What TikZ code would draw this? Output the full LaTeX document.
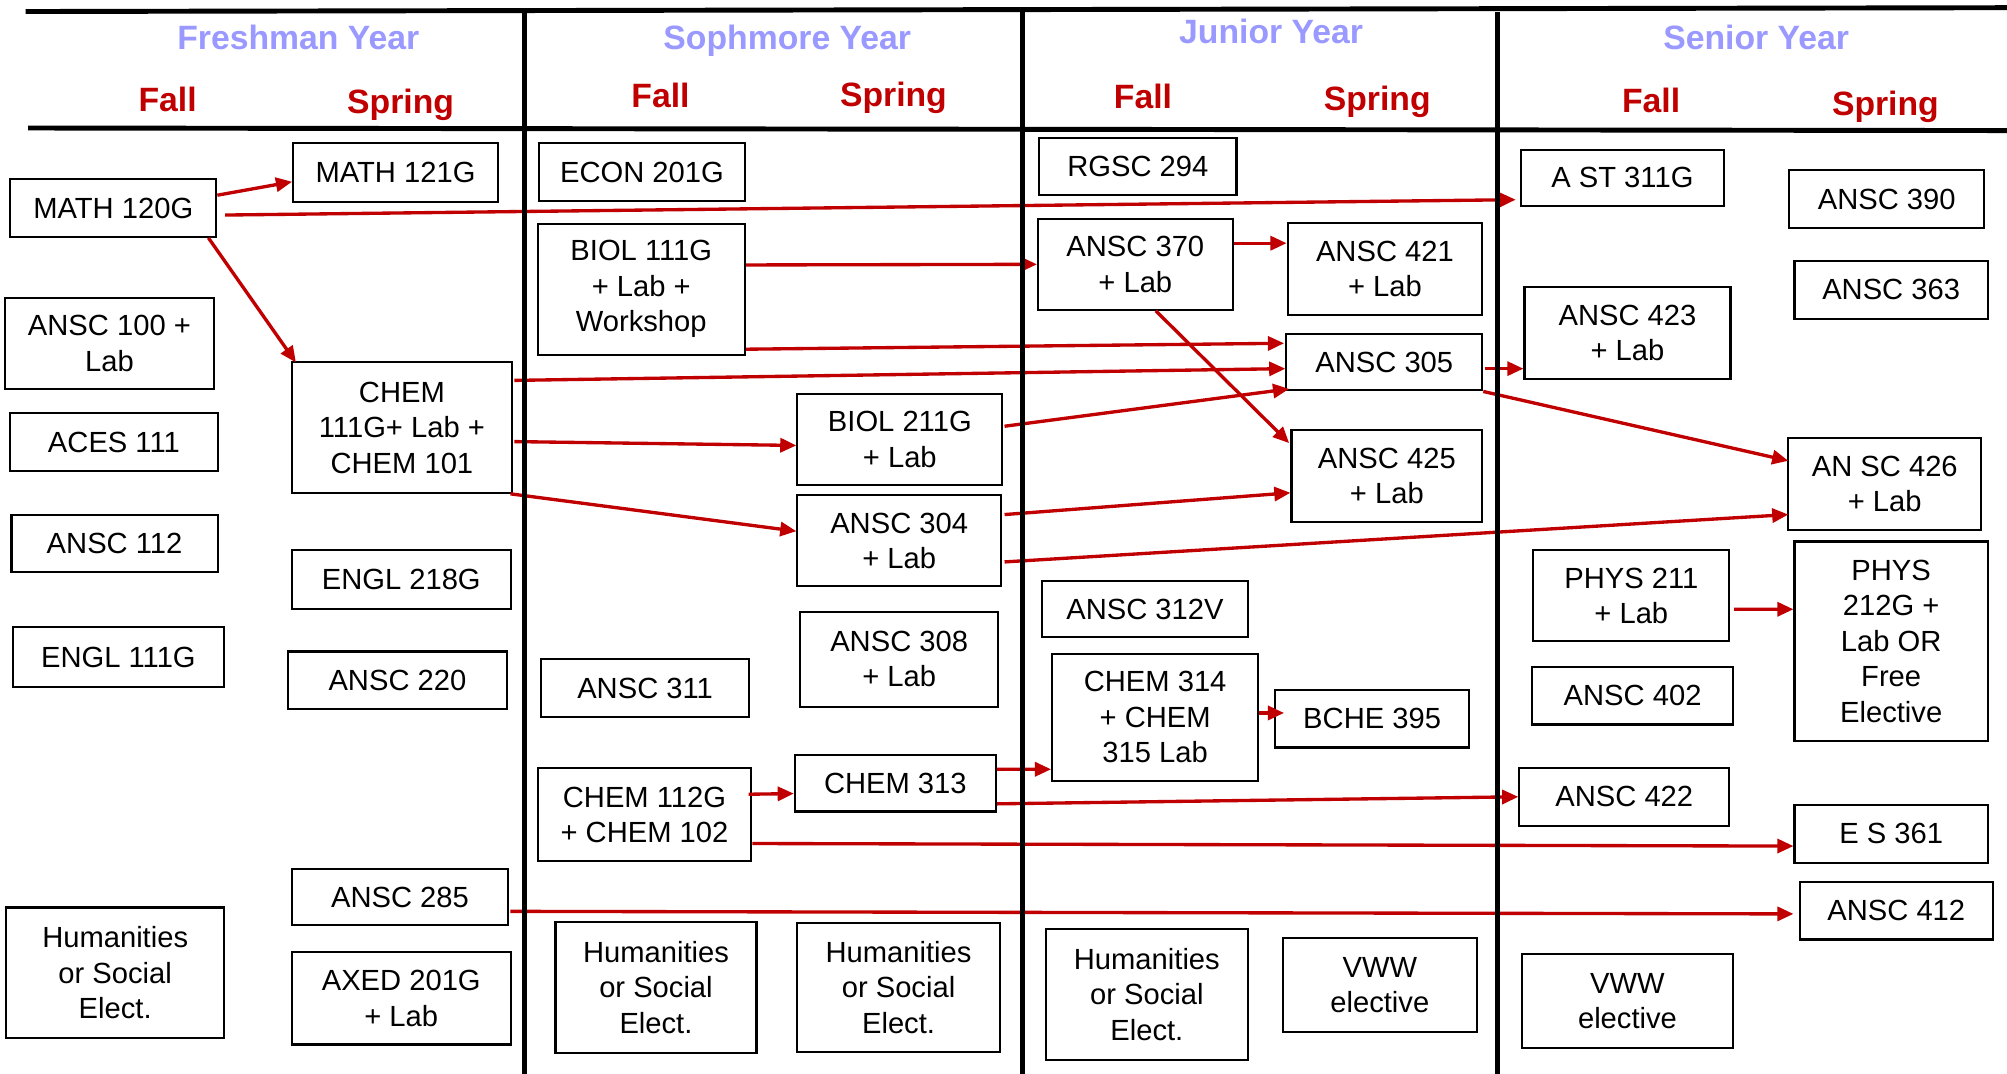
\documentclass[tikz,border=0pt]{standalone}
\usepackage{fontspec}
\setmainfont{Liberation Sans}
\usetikzlibrary{arrows.meta, positioning, calc}
\definecolor{yearblue}{RGB}{153,153,255}
\definecolor{termred}{RGB}{192,0,0}

\begin{document}
\begin{tikzpicture}[
    x=0.0128cm, y=-0.0128cm,
    course/.style={draw, line width=0.6pt, inner sep=0pt, align=center, font=\fontsize{8.3}{10.1}\selectfont},
    boxsize/.style 2 args={minimum width=#1*0.128mm, minimum height=#2*0.128mm},
    year/.style={font=\fontsize{9.6}{11}\selectfont\bfseries, text=yearblue, anchor=base},
    term/.style={font=\fontsize{9.6}{11}\selectfont\bfseries, text=termred, anchor=base},
    gridline/.style={line width=1.4pt},
    arr/.style={-{Triangle[length=4.6pt, width=4pt]}, line width=0.95pt, termred},
  ]
  \useasboundingbox (0,0) rectangle (1568,839);

  % headings
  \node[year] (fresh) at (233,39) {Freshman Year};
  \node[year] (soph) at (615,39) {Sophmore Year};
  \node[year] (junior) at (993,34) {Junior Year};
  \node[year] (senior) at (1372,39) {Senior Year};
  \node[term] (frfall) at (131,87) {Fall};
  \node[term] (frspring) at (313,88.5) {Spring};
  \node[term] (sofall) at (516,84) {Fall};
  \node[term] (sospring) at (698,83.5) {Spring};
  \node[term] (jufall) at (893,85) {Fall};
  \node[term] (juspring) at (1076,86.5) {Spring};
  \node[term] (sefall) at (1290,88) {Fall};
  \node[term] (sespring) at (1473,90) {Spring};

  % freshman
  \node[course, boxsize={161}{45}] (m120) at (88.5,162.5) {MATH 120G};
  \node[course, boxsize={163}{71}] (a100) at (85.5,268.5) {ANSC 100 +\\Lab};
  \node[course, boxsize={162}{45}] (aces) at (89,345.5) {ACES 111};
  \node[course, boxsize={161}{45}] (a112) at (89.5,424.5) {ANSC 112};
  \node[course, boxsize={165}{47}] (e111) at (92.5,513.5) {ENGL 111G};
  \node[course, boxsize={170}{102}] (hum1) at (90,760) {Humanities\\or Social\\Elect.};
  \node[course, boxsize={160}{46}] (m121) at (309,135) {MATH 121G};
  \node[course, boxsize={172}{102}] (chem111) at (314,334) {CHEM\\111G+ Lab +\\CHEM 101};
  \node[course, boxsize={171}{46}] (e218) at (313.5,453) {ENGL 218G};
  \node[course, boxsize={171}{45}] (a220) at (310.5,531.5) {ANSC 220};
  \node[course, boxsize={169}{44}] (a285) at (312.5,701) {ANSC 285};
  \node[course, boxsize={171}{72}] (axed) at (313.5,780) {AXED 201G\\+ Lab};

  % sophomore
  \node[course, boxsize={161}{45}] (econ) at (501.5,134.5) {ECON 201G};
  \node[course, boxsize={162}{102}] (biol111) at (501,226) {BIOL 111G\\+ Lab +\\Workshop};
  \node[course, boxsize={162}{45}] (a311) at (504,537.5) {ANSC 311};
  \node[course, boxsize={167}{73}] (chem112) at (503.5,636.5) {CHEM 112G\\+ CHEM 102};
  \node[course, boxsize={157}{103}] (hum2) at (512.5,771.5) {Humanities\\or Social\\Elect.};
  \node[course, boxsize={160}{71}] (biol211) at (703,343.5) {BIOL 211G\\+ Lab};
  \node[course, boxsize={159}{71}] (a304) at (702.5,422.5) {ANSC 304\\+ Lab};
  \node[course, boxsize={155}{74}] (a308) at (702.5,515) {ANSC 308\\+ Lab};
  \node[course, boxsize={157}{44}] (chem313) at (699.5,612) {CHEM 313};
  \node[course, boxsize={158}{101}] (hum3) at (702,771.5) {Humanities\\or Social\\Elect.};

  % junior
  \node[course, boxsize={154}{44}] (rgsc) at (889,130) {RGSC 294};
  \node[course, boxsize={152}{71}] (a370) at (887,206.5) {ANSC 370\\+ Lab};
  \node[course, boxsize={161}{44}] (a312v) at (894.5,476) {ANSC 312V};
  \node[course, boxsize={161}{99}] (chem314) at (902.5,560.5) {CHEM 314\\+ CHEM\\315 Lab};
  \node[course, boxsize={158}{102}] (hum4) at (896,777) {Humanities\\or Social\\Elect.};
  \node[course, boxsize={152}{72}] (a421) at (1082,210) {ANSC 421\\+ Lab};
  \node[course, boxsize={153}{44}] (a305) at (1081.5,283) {ANSC 305};
  \node[course, boxsize={149}{72}] (a425) at (1083.5,372) {ANSC 425\\+ Lab};
  \node[course, boxsize={152}{45}] (bche) at (1072,561.5) {BCHE 395};
  \node[course, boxsize={152}{73}] (vww1) at (1078,769.5) {VWW\\elective};

  % senior
  \node[course, boxsize={159}{44}] (ast) at (1267.5,139) {A ST 311G};
  \node[course, boxsize={161}{72}] (a423) at (1271.5,260) {ANSC 423\\+ Lab};
  \node[course, boxsize={153}{71}] (phys211) at (1274.5,465.5) {PHYS 211\\+ Lab};
  \node[course, boxsize={157}{45}] (a402) at (1275.5,543.5) {ANSC 402};
  \node[course, boxsize={164}{45}] (a422) at (1269,622.5) {ANSC 422};
  \node[course, boxsize={165}{74}] (vww2) at (1271.5,782) {VWW\\elective};
  \node[course, boxsize={152}{45}] (a390) at (1474,155.5) {ANSC 390};
  \node[course, boxsize={151}{45}] (a363) at (1477.5,226.5) {ANSC 363};
  \node[course, boxsize={151}{72}] (a426) at (1472.5,378) {AN SC 426\\+ Lab};
  \node[course, boxsize={151}{156}] (phys212) at (1477.5,501) {PHYS\\212G +\\Lab OR\\Free\\Elective};
  \node[course, boxsize={151}{45}] (es361) at (1477.5,651.5) {E S 361};
  \node[course, boxsize={151}{45}] (a412) at (1481.5,711.5) {ANSC 412};

  % prerequisites
  \draw[arr] ($(m120.east)+(0,-10)$) -- ($(m121.west)+(0,7)$);
  \draw[arr] ($(m120.east)+(6,5.5)$) -- ($(ast.west)+(-3,17)$);
  \draw[arr] ($(m120.south east)+(-7,0)$) -- ($(chem111.north west)+(4,1)$);
  \draw[arr] ($(biol111.east)+(0,-19)$) -- (a370.west);
  \draw[arr] ($(biol111.south east)+(0,-5)$) -- ($(a305.north west)+(-1,8)$);
  \draw[arr] ($(chem111.north east)+(1,15)$) -- ($(a305.west)+(0,5)$);
  \draw[arr] ($(chem111.east)+(1,11)$) -- ($(biol211.west)+(0,4.5)$);
  \draw[arr] ($(chem111.south east)+(-2,0)$) -- ($(a304.west)+(0,-7.5)$);
  \draw[arr] ($(a370.east)+(0,-16.5)$) -- ($(a421.west)+(0,-20)$);
  \draw[arr] ($(a370.south)+(16,0)$) -- ($(a425.north west)+(-1,11)$);
  \draw[arr] ($(biol211.east)+(1,-10.5)$) -- ($(a305.south west)+(3,-2)$);
  \draw[arr] ($(a304.east)+(2,-20.5)$) -- ($(a425.west)+(0,13)$);
  \draw[arr] ($(a304.east)+(2,16.5)$) -- ($(a426.west)+(1,24)$);
  \draw[arr] ($(a305.east)+(1,5)$) -- ($(a423.west)+(0,28)$);
  \draw[arr] (a305.south east) -- ($(a426.west)+(1,-18)$);
  \draw[arr] ($(phys211.east)+(3,10.5)$) -- ($(phys212.west)+(0,-25)$);
  \draw[arr] ($(chem112.east)+(-3,-16)$) -- ($(chem313.west)+(0,8)$);
  \draw[arr] ($(chem313.east)+(0,-11)$) -- ($(chem314.west)+(0,40.5)$);
  \draw[arr] ($(chem313.east)+(0,16)$) -- (a422.west);
  \draw[arr] ($(chem112.east)+(0,22.5)$) -- ($(es361.west)+(0,9.5)$);
  \draw[arr] ($(chem314.east)+(0,-3.5)$) -- ($(bche.west)+(8,-4.5)$);
  \draw[arr] ($(a285.east)+(1,11)$) -- ($(a412.west)+(-4,2.5)$);

  % table rules
  \draw[gridline] (20,9) -- (1568,6);
  \draw[gridline] (22,100) -- (1568,102);
  \draw[gridline] (410,7) -- (410,839);
  \draw[gridline] (799,6) -- (799,839);
  \draw[gridline] (1170,9) -- (1170,839);
\end{tikzpicture}
\end{document}
